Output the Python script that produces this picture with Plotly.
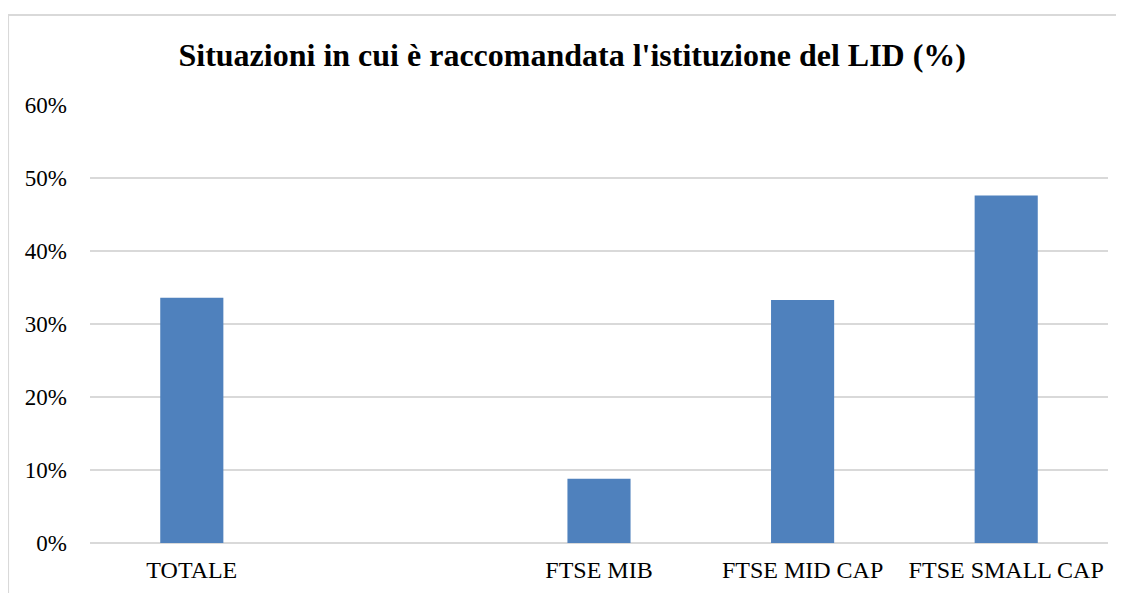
import plotly.graph_objects as go

# categories (one empty slot between TOTALE and FTSE MIB, as in the original)
categorie = ["TOTALE", " ", "FTSE MIB", "FTSE MID CAP", "FTSE SMALL CAP"]
valori = [0.336, None, 0.088, 0.333, 0.476]
tick_y = [0, 0.1, 0.2, 0.3, 0.4, 0.5, 0.6]

fig = go.Figure()
fig.add_trace(go.Bar(
    x=categorie,
    y=valori,
    marker=dict(color="#4f81bd", line=dict(width=0)),
))

# the page body has an 8px margin, so margins are shifted by that amount
fig.update_layout(
    width=1124, height=593,
    margin=dict(l=82, r=24, t=97, b=58),
    paper_bgcolor="white",
    plot_bgcolor="white",
    showlegend=False,
    bargap=0.69,
    font=dict(family="Liberation Serif", size=23, color="black"),
    title=dict(
        text="<b>Situazioni in cui è raccomandata l'istituzione del LID (%)</b>",
        font=dict(family="Liberation Serif", size=32, color="black"),
        xref="container", x=0.502, xanchor="center",
        yref="container", y=0.921, yanchor="middle",
    ),
    xaxis=dict(
        type="category",
        showgrid=False,
        showline=False,
        ticks="",
        ticklabelstandoff=10,
        tickfont=dict(size=24),
    ),
    yaxis=dict(
        range=[0, 0.6],
        tickvals=tick_y,
        tickformat=".0%",
        showgrid=True,
        gridcolor="#d9d9d9",
        gridwidth=1.5,
        zeroline=True,
        zerolinecolor="#d9d9d9",
        zerolinewidth=1.5,
        showline=False,
        ticks="",
        ticklabelstandoff=22,
        tickfont=dict(size=23),
    ),
    shapes=[dict(
        type="rect", xref="paper", yref="paper",
        x0=-0.0805, x1=1.03, y0=-0.2, y1=1.2055,
        line=dict(color="#d9d9d9", width=2),
        fillcolor="rgba(0,0,0,0)",
        layer="below",
    )],
)

fig.write_html("out.html")
